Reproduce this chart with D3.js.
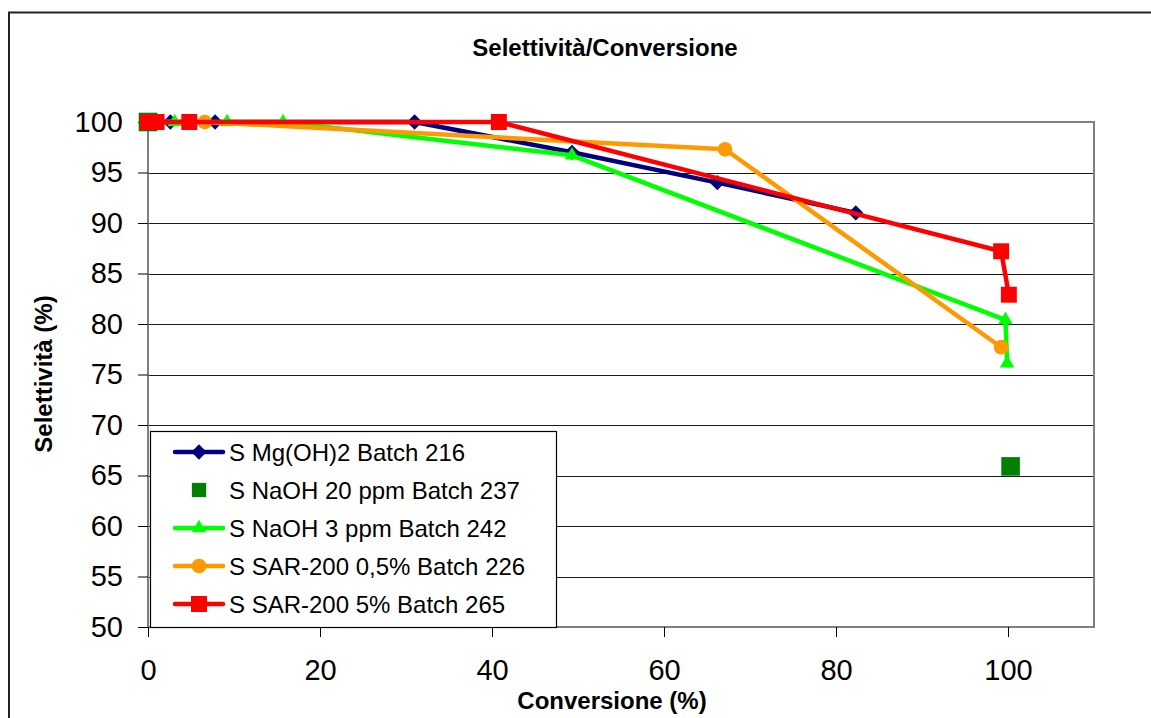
<!DOCTYPE html>
<html>
<head>
<meta charset="utf-8">
<script src="https://cdn.jsdelivr.net/npm/d3@7"></script>
<style>
  body { margin: 0; background: #fff; }
  svg { display: block; font-family: 'Liberation Sans', Arial, sans-serif; }
</style>
</head>
<body>
<svg id="chart--sel" width="1151" height="718"></svg>
<script>

var TITLE = 'Selettività/Conversione';
var X_TITLE = 'Conversione (%)';
var Y_TITLE = 'Selettività (%)';

var X_TICKS = [0, 20, 40, 60, 80, 100];
var Y_TICKS = [50, 55, 60, 65, 70, 75, 80, 85, 90, 95, 100];

var SERIES_NAMES = [
  'S Mg(OH)2 Batch 216',
  'S NaOH 20 ppm Batch 237',
  'S NaOH 3 ppm Batch 242',
  'S SAR-200 0,5% Batch 226',
  'S SAR-200 5% Batch 265'
];

// conversione / selettivita per batch
var MG_X = [0, 2.6, 7.8, 31.0, 49.3, 66.2, 82.3];
var MG_Y = [100, 100, 100, 100, 97.0, 94.0, 91.0];

var NAOH20_X = [0, 100.3];
var NAOH20_Y = [100, 65.9];

var NAOH3_X = [0, 3.1, 9.2, 15.7, 49.3, 99.7, 99.9];
var NAOH3_Y = [100, 100, 100, 100, 96.7, 80.4, 76.1];

var SAR05_X = [0, 6.6, 67.1, 99.2];
var SAR05_Y = [100, 100, 97.3, 77.7];

var SAR5_X = [0, 1.0, 4.8, 40.8, 99.2, 100.1];
var SAR5_Y = [100, 100, 100, 100, 87.2, 82.9];

var SVG = d3.select('#chart--sel');

function zip(xs, ys) {
  return xs.map((x, i) => ({x: x, y: ys[i]}));
}

var series = [
  {name: SERIES_NAMES[0], color: '#000080', symbol: d3.symbolDiamond2, size: 150, line: true,  data: zip(MG_X, MG_Y)},
  {name: SERIES_NAMES[1], color: '#008000', symbol: d3.symbolSquare2,  size: 440, line: false, data: zip(NAOH20_X, NAOH20_Y)},
  {name: SERIES_NAMES[2], color: '#00ff00', symbol: d3.symbolTriangle2, size: 150, line: true, data: zip(NAOH3_X, NAOH3_Y)},
  {name: SERIES_NAMES[3], color: '#ff9900', symbol: d3.symbolCircle,   size: 170, line: true,  data: zip(SAR05_X, SAR05_Y)},
  {name: SERIES_NAMES[4], color: '#ff0000', symbol: d3.symbolSquare2,  size: 324, line: true,  data: zip(SAR5_X, SAR5_Y)}
];

// ----- Frame ----------------------------------------------------------------
SVG.append('rect')
    .attr('x', 9).attr('y', 12.5)
    .attr('width', 1200).attr('height', 800)
    .attr('fill', 'none')
    .attr('stroke', '#222')
    .attr('stroke-width', 2);

var plot = { left: 148, top: 122, right: 1094, bottom: 627 };

var x = d3.scaleLinear().domain([0, 110]).range([plot.left, plot.right]);
var y = d3.scaleLinear().domain([50, 100]).range([plot.bottom, plot.top]);

// ----- Grid -----------------------------------------------------------------
SVG.append('g')
    .attr('class', 'grid')
  .selectAll('line')
    .data(Y_TICKS.filter((d) => d > 50 && d < 100))
  .enter().append('line')
    .attr('x1', plot.left).attr('x2', plot.right)
    .attr('y1', (d) => Math.round(y(d)) + 0.5)
    .attr('y2', (d) => Math.round(y(d)) + 0.5)
    .attr('stroke', '#1a1a1a')
    .attr('stroke-width', 1.2);

SVG.append('rect')
    .attr('x', plot.left).attr('y', plot.top)
    .attr('width', plot.right - plot.left)
    .attr('height', plot.bottom - plot.top)
    .attr('fill', 'none')
    .attr('stroke', '#808080')
    .attr('stroke-width', 2);

// ----- Axes -----------------------------------------------------------------
var xAxis = SVG.append('g')
    .attr('transform', 'translate(0,' + plot.bottom + ')')
    .call(d3.axisBottom(x).tickValues(X_TICKS).tickSizeOuter(0).tickSize(10).tickPadding(22));
xAxis.select('.domain').remove();
xAxis.selectAll('line').attr('stroke', '#000');
xAxis.selectAll('text')
    .attr('font-size', 29)
    .attr('font-family', "'Liberation Sans', Arial, sans-serif")
    .attr('fill', '#000');

var yAxis = SVG.append('g')
    .attr('transform', 'translate(' + plot.left + ',0)')
    .call(d3.axisLeft(y).tickValues(Y_TICKS).tickSizeOuter(0).tickSize(10).tickPadding(15));
yAxis.select('.domain').remove();
yAxis.selectAll('line').attr('stroke', '#000');
yAxis.selectAll('text')
    .attr('font-size', 29)
    .attr('font-family', "'Liberation Sans', Arial, sans-serif")
    .attr('fill', '#000');

// ----- Titles ---------------------------------------------------------------
SVG.append('text')
    .attr('x', 605).attr('y', 56)
    .attr('text-anchor', 'middle')
    .attr('font-size', 24).attr('font-weight', 'bold')
    .text(TITLE);

SVG.append('text')
    .attr('x', 612).attr('y', 709)
    .attr('text-anchor', 'middle')
    .attr('font-size', 24).attr('font-weight', 'bold')
    .text(X_TITLE);

SVG.append('text')
    .attr('transform', 'translate(52,374) rotate(-90)')
    .attr('text-anchor', 'middle')
    .attr('font-size', 24).attr('font-weight', 'bold')
    .text(Y_TITLE);

// ----- Series ---------------------------------------------------------------
var line = d3.line().x((d) => x(d.x)).y((d) => y(d.y));

series.forEach(function(s) {
  var g = SVG.append('g').attr('class', 'series');
  if (s.line) {
    g.append('path')
        .attr('d', line(s.data))
        .attr('fill', 'none')
        .attr('stroke', s.color)
        .attr('stroke-width', 4.5)
        .attr('stroke-linejoin', 'round');
  }
  g.selectAll('path.pt')
      .data(s.data)
    .enter().append('path')
      .attr('class', 'pt')
      .attr('transform', (d) => 'translate(' + x(d.x) + ',' + y(d.y) + ')')
      .attr('d', d3.symbol().type(s.symbol).size(s.size))
      .attr('fill', s.color);
});

// ----- Legend ---------------------------------------------------------------
var legend = SVG.append('g').attr('class', 'legend');
legend.append('rect')
    .attr('x', 150.5).attr('y', 431.5)
    .attr('width', 406).attr('height', 196)
    .attr('fill', '#fff')
    .attr('stroke', '#000')
    .attr('stroke-width', 1.2);

var rows = legend.selectAll('g.row')
    .data(series)
  .enter().append('g')
    .attr('class', 'row')
    .attr('transform', (d, i) => 'translate(199,' + (452 + i * 38) + ')');

rows.filter((d) => d.line).append('line')
    .attr('x1', -24).attr('x2', 24)
    .attr('stroke', (d) => d.color)
    .attr('stroke-width', 4.5)
    .attr('stroke-linecap', 'round');

rows.append('path')
    .attr('d', (d) => d3.symbol().type(d.symbol).size(d.line ? d.size : 260)())
    .attr('fill', (d) => d.color);

rows.append('text')
    .attr('x', 30).attr('dy', '0.36em')
    .attr('font-size', 24)
    .text((d) => d.name);

</script>
</body>
</html>
